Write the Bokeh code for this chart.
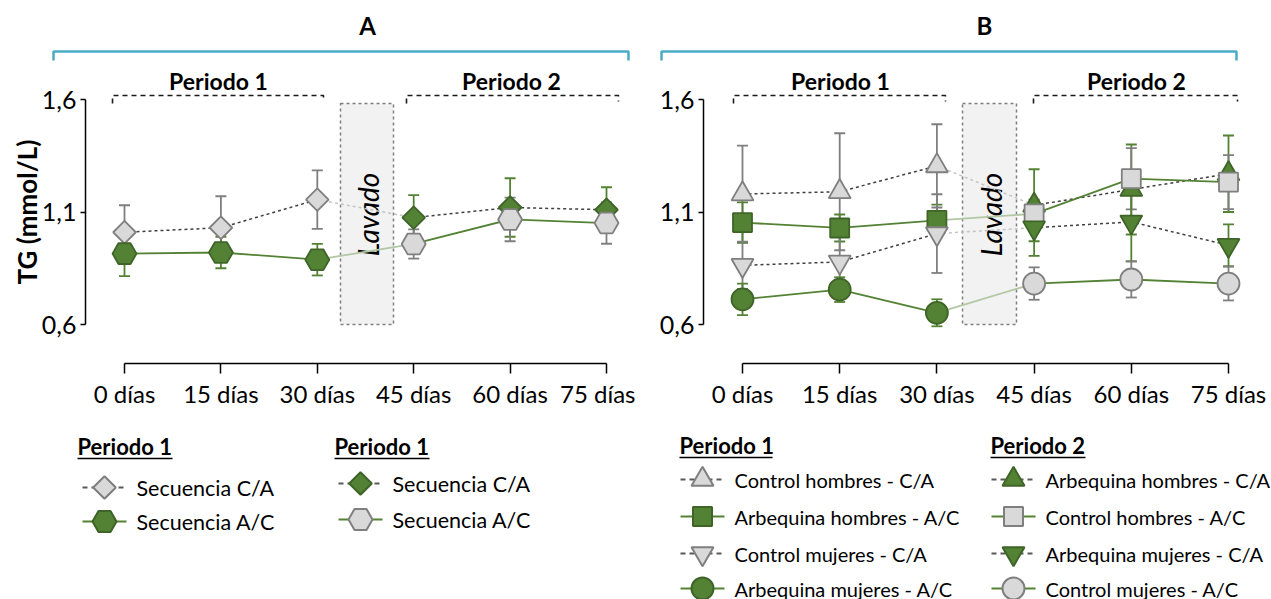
import numpy as np
from bokeh.plotting import figure
from bokeh.layouts import row
from bokeh.models import (Range1d, LinearAxis, FixedTicker, Whisker,
                          ColumnDataSource, TeeHead)
from bokeh.core.properties import value
from bokeh.embed import file_html
from bokeh.resources import INLINE

FONT = "Lato"

# ---- axis categories / ticks ----
days = ["0 días", "15 días", "30 días", "45 días", "60 días", "75 días"]
y_ticks = [0.6, 1.1, 1.6]
y_tick_labels = ["0,6", "1,1", "1,6"]

# ---- panel A: TG by sequence (mean, error) ----
a_ca_mean = [1.01, 1.03, 1.155, 1.075, 1.12, 1.11]
a_ca_err = [0.12, 0.14, 0.13, 0.10, 0.13, 0.10]
a_ac_mean = [0.915, 0.92, 0.888, 0.958, 1.067, 1.051]
a_ac_err = [0.10, 0.07, 0.07, 0.065, 0.097, 0.092]

# ---- panel B: TG by sex and sequence (mean, error) ----
b_ch_mean = [1.18, 1.19, 1.305, 1.13, 1.20, 1.27]
b_ch_err = [0.215, 0.26, 0.185, 0.16, 0.20, 0.17]
b_ah_mean = [1.053, 1.029, 1.063, 1.092, 1.248, 1.233]
b_ah_err = [0.09, 0.06, 0.07, 0.05, 0.136, 0.12]
b_cm_mean = [0.863, 0.878, 1.004, 1.03, 1.056, 0.952]
b_cm_err = [0.105, 0.11, 0.175, 0.125, 0.175, 0.093]
b_am_mean = [0.712, 0.755, 0.652, 0.782, 0.80, 0.782]
b_am_err = [0.07, 0.055, 0.06, 0.072, 0.08, 0.075]

# ---- colours ----
GREEN = "#548235"
GREEN_EDGE = "#3e6428"
GRAY_FILL = "#d9d9d9"
GRAY_EDGE = "#7f7f7f"
DASH_COL = "#404040"
FADE_GREEN = "#b2c7a4"
FADE_GRAY = "#c4c4c4"
CYAN = "#4bacc6"

H = 599
Y_TOP_PX, Y_BOT_PX = 99, 324          # rows of 1,6 and 0,6
PPU = (Y_BOT_PX - Y_TOP_PX) / (1.6 - 0.6)

MARKERS = {
    "diamond": dict(marker="square", size=16, angle=np.pi / 4),
    "hex": dict(marker="hex", size=24, angle=0.0),
    "triangle": dict(marker="triangle", size=22, angle=0.0),
    "inv_triangle": dict(marker="inverted_triangle", size=22, angle=0.0),
    "square": dict(marker="square", size=19, angle=0.0),
    "circle": dict(marker="circle", size=22, angle=0.0),
}


def make_panel(width, x0_px, step_px, yaxis_px, ylabel):
    x_start = -x0_px / step_px
    x_end = (width - x0_px) / step_px
    y_start = 0.6 - (H - Y_BOT_PX) / PPU
    y_end = 1.6 + Y_TOP_PX / PPU
    p = figure(width=width, height=H, x_range=Range1d(x_start, x_end),
               y_range=Range1d(y_start, y_end), x_axis_location=None,
               y_axis_location=None, toolbar_location=None,
               output_backend="svg", min_border=0, outline_line_color=None,
               background_fill_color="white", border_fill_color="white")
    for g in p.grid:
        g.visible = False
    p.xgrid.grid_line_color = None
    p.ygrid.grid_line_color = None
    sx = lambda px: (px - x0_px) / step_px
    sy = lambda py: 1.6 - (py - Y_TOP_PX) / PPU

    yaxis = LinearAxis(fixed_location=sx(yaxis_px), bounds=(0.6, 1.6),
                       ticker=FixedTicker(ticks=y_ticks),
                       major_label_overrides=dict(zip(y_ticks, y_tick_labels)),
                       major_tick_out=5, major_tick_in=0,
                       minor_tick_out=0, minor_tick_in=0,
                       axis_line_width=1.5, major_tick_line_width=1.5,
                       axis_line_color="black", major_tick_line_color="black",
                       major_label_text_font=FONT,
                       major_label_text_font_size="25px",
                       major_label_text_color="black",
                       major_label_standoff=4)
    if ylabel:
        yaxis.axis_label = ylabel
        yaxis.axis_label_text_font = FONT
        yaxis.axis_label_text_font_style = "bold"
        yaxis.axis_label_text_font_size = "26px"
        yaxis.axis_label_text_color = "black"
        yaxis.axis_label_standoff = -4
    p.add_layout(yaxis, "left")

    xaxis = LinearAxis(fixed_location=sy(363), bounds=(0, 5),
                       ticker=FixedTicker(ticks=list(range(6))),
                       major_label_overrides={i: d for i, d in enumerate(days)},
                       major_tick_out=10, major_tick_in=0,
                       minor_tick_out=0, minor_tick_in=0,
                       axis_line_width=1.5, major_tick_line_width=1.5,
                       axis_line_color="black", major_tick_line_color="black",
                       major_label_text_font=FONT,
                       major_label_text_font_size="24px",
                       major_label_text_color="black",
                       major_label_standoff=5)
    p.add_layout(xaxis, "below")
    return p, sx, sy


def decorate(p, sx, sy, title, title_x, br_l, br_r, periods, lav_l, lav_r,
             lav_x):
    # panel letter and cyan bracket
    p.text(x=[sx(title_x)], y=[sy(25)], text=[title], text_font=value(FONT),
           text_font_style="bold", text_font_size="24px",
           text_align="center", text_baseline="middle", text_color="black")
    p.line([sx(br_l), sx(br_l), sx(br_r), sx(br_r)],
           [sy(60), sy(51), sy(51), sy(60)], line_color=CYAN, line_width=2.5)
    # period brackets
    for name, cx, l, r in periods:
        p.text(x=[sx(cx)], y=[sy(80)], text=[name], text_font=value(FONT),
               text_font_style="bold", text_font_size="23px",
               text_align="center", text_baseline="middle", text_color="black")
        p.line([sx(l), sx(l), sx(r), sx(r)], [sy(103), sy(95), sy(95), sy(101)],
               line_color="#1a1a1a", line_width=1.6, line_dash="5 4")
    # washout box
    p.quad(left=[sx(lav_l)], right=[sx(lav_r)], top=[sy(103)], bottom=[sy(324)],
           fill_color="#f2f2f2", line_color=GRAY_EDGE, line_width=1.5,
           line_dash="3 3")
    p.text(x=[sx(lav_x)], y=[sy(214)], text=["Lavado"], angle=np.pi / 2,
           text_font=value(FONT), text_font_style="italic",
           text_font_size="28px", text_align="center",
           text_baseline="middle", text_color="black")


def draw_series(p, mean, err, dashed, shape, p1_green):
    idx = list(range(6))
    lo = [m - e for m, e in zip(mean, err)]
    hi = [m + e for m, e in zip(mean, err)]
    if dashed:
        p.line(idx[:3], mean[:3], line_color=DASH_COL, line_width=1.5,
               line_dash="3 3")
        p.line(idx[2:4], mean[2:4], line_color=FADE_GRAY, line_width=1.5,
               line_dash="3 3")
        p.line(idx[3:], mean[3:], line_color=DASH_COL, line_width=1.5,
               line_dash="3 3")
    else:
        p.line(idx[:3], mean[:3], line_color=GREEN, line_width=1.8)
        p.line(idx[2:4], mean[2:4], line_color=FADE_GREEN, line_width=1.8)
        p.line(idx[3:], mean[3:], line_color=GREEN, line_width=1.8)
    green = (GREEN, GREEN_EDGE)
    gray = (GRAY_FILL, GRAY_EDGE)
    styles = [green, gray] if p1_green else [gray, green]
    for part, (fill, edge) in zip([slice(0, 3), slice(3, 6)], styles):
        bar_col = GREEN if fill == GREEN else GRAY_EDGE
        src = ColumnDataSource(dict(x=idx[part], lo=lo[part], hi=hi[part]))
        w = Whisker(source=src, base="x", lower="lo", upper="hi",
                    line_color=bar_col, line_width=1.8,
                    upper_head=TeeHead(size=11, line_color=bar_col,
                                       line_width=1.8),
                    lower_head=TeeHead(size=11, line_color=bar_col,
                                       line_width=1.8))
        p.add_layout(w)
        m = MARKERS[shape]
        p.scatter(idx[part], mean[part], marker=m["marker"], size=m["size"],
                  angle=m["angle"], fill_color=fill, line_color=edge,
                  line_width=1.8)


def legend_item(p, sx, sy, x_px, y_px, label, dashed, shape, green, fsize):
    if dashed:
        p.line([sx(x_px), sx(x_px + 44)], [sy(y_px), sy(y_px)],
               line_color="#595959", line_width=2, line_dash="5 4")
    else:
        p.line([sx(x_px), sx(x_px + 44)], [sy(y_px), sy(y_px)],
               line_color=GREEN, line_width=2)
    m = MARKERS[shape]
    fill, edge = (GREEN, GREEN_EDGE) if green else (GRAY_FILL, GRAY_EDGE)
    p.scatter([sx(x_px + 22)], [sy(y_px)], marker=m["marker"],
              size=m["size"], angle=m["angle"], fill_color=fill,
              line_color=edge, line_width=2)
    p.text(x=[sx(x_px + 54)], y=[sy(y_px)], text=[label],
           text_font=value(FONT), text_font_size=fsize,
           text_align="left", text_baseline="middle", text_color="black")


def legend_heading(p, sx, sy, x_px, y_px, label, width_px):
    p.text(x=[sx(x_px)], y=[sy(y_px)], text=[label], text_font=value(FONT),
           text_font_style="bold", text_font_size="22px", text_align="left",
           text_baseline="middle", text_color="black")
    p.line([sx(x_px), sx(x_px + width_px)], [sy(y_px + 12), sy(y_px + 12)],
           line_color="black", line_width=1.5)


# ================= panel A =================
WA = 635
pA, sxA, syA = make_panel(WA, 124, 96.4, 85, "TG (mmol/L)")
decorate(pA, sxA, syA, "A", 367, 53, 628,
         [("Periodo 1", 218, 112, 323), ("Periodo 2", 511, 406, 618)],
         340, 393, 367)
draw_series(pA, a_ca_mean, a_ca_err, True, "diamond", p1_green=False)
draw_series(pA, a_ac_mean, a_ac_err, False, "hex", p1_green=True)

FA = "21.5px"
legend_heading(pA, sxA, syA, 77, 446, "Periodo 1", 95)
legend_item(pA, sxA, syA, 82, 487, "Secuencia C/A", True, "diamond", False, FA)
legend_item(pA, sxA, syA, 82, 521, "Secuencia A/C", False, "hex", True, FA)
legend_heading(pA, sxA, syA, 334, 446, "Periodo 1", 95)
legend_item(pA, sxA, syA, 338, 483, "Secuencia C/A", True, "diamond", True, FA)
legend_item(pA, sxA, syA, 338, 519, "Secuencia A/C", False, "hex", False, FA)

# ================= panel B =================
WB = 1271 - WA
OFF = WA
pB, sxB0, syB = make_panel(WB, 742 - OFF, 97.2, 703 - OFF, None)
sxB = lambda px: sxB0(px - OFF)
decorate(pB, sxB, syB, "B", 984, 661, 1236,
         [("Periodo 1", 840, 733, 945), ("Periodo 2", 1136, 1033, 1237)],
         962, 1016, 990)
draw_series(pB, b_ch_mean, b_ch_err, True, "triangle", p1_green=False)
draw_series(pB, b_ah_mean, b_ah_err, False, "square", p1_green=True)
draw_series(pB, b_cm_mean, b_cm_err, True, "inv_triangle", p1_green=False)
draw_series(pB, b_am_mean, b_am_err, False, "circle", p1_green=True)

FB = "20px"
legend_heading(pB, sxB, syB, 679, 445, "Periodo 1", 93)
legend_item(pB, sxB, syB, 680, 479, "Control hombres - C/A", True, "triangle", False, FB)
legend_item(pB, sxB, syB, 680, 516, "Arbequina hombres - A/C", False, "square", True, FB)
legend_item(pB, sxB, syB, 680, 553, "Control mujeres - C/A", True, "inv_triangle", False, FB)
legend_item(pB, sxB, syB, 680, 588, "Arbequina mujeres - A/C", False, "circle", True, FB)
legend_heading(pB, sxB, syB, 990, 445, "Periodo 2", 95)
legend_item(pB, sxB, syB, 991, 479, "Arbequina hombres - C/A", True, "triangle", True, FB)
legend_item(pB, sxB, syB, 991, 516, "Control hombres - A/C", False, "square", False, FB)
legend_item(pB, sxB, syB, 991, 553, "Arbequina mujeres - C/A", True, "inv_triangle", True, FB)
legend_item(pB, sxB, syB, 991, 588, "Control mujeres - A/C", False, "circle", False, FB)

layout = row(pA, pB)
open("out.html", "w").write(file_html(layout, INLINE))
